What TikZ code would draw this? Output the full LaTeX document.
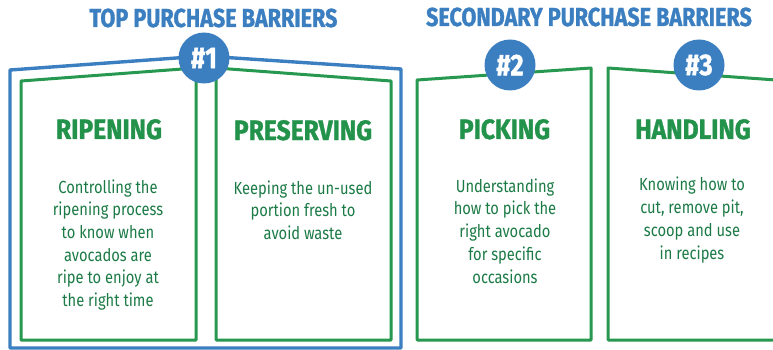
\documentclass[tikz,border=0pt]{standalone}
\usepackage{fontspec}
\setmainfont{Fira Sans}
\newfontfamily\condfont[FakeStretch=0.84]{Fira Sans}
\newfontfamily\headfont[FakeStretch=0.88, FakeBold=1.2]{Fira Sans Bold}
\newfontfamily\titlefont[FakeStretch=0.83, FakeBold=1.2]{Fira Sans Bold}
\newfontfamily\rankfont[FakeStretch=0.85, FakeBold=1.2]{Fira Sans Bold}
\definecolor{barblue}{HTML}{3B7FC1}
\definecolor{framegreen}{HTML}{27984F}
\definecolor{headgreen}{HTML}{23924B}
\definecolor{bodygreen}{HTML}{1B7A45}
\tikzset{
  frame/.style={draw=framegreen, line width=3pt, line join=round},
  outer/.style={draw=barblue, line width=3.4pt, line join=round},
  rank/.style={circle, fill=barblue, minimum size=51pt, inner sep=0pt,
               text=white, font=\rankfont\fontsize{30}{30}\selectfont},
  title/.style={anchor=base, text=barblue, inner sep=0pt,
                font=\titlefont\fontsize{26}{26}\selectfont},
  heading/.style={anchor=base, text=headgreen, inner sep=0pt,
                  font=\headfont\fontsize{28}{28}\selectfont},
  % multi-line text: the base anchor sits on the last line
  body/.style={anchor=base, text=bodygreen, inner sep=0pt, align=center,
               font=\condfont\fontsize{17.5}{22.7}\selectfont},
}
\begin{document}
\begin{tikzpicture}[x=1pt, y=-1pt]
\useasboundingbox (0,0) rectangle (773,350);
\begin{scope}
\clip (0,0) rectangle (773,350);

% blue frame around the two top barriers
\draw[outer] (10,70) -- (204,56) -- (401,69) -- (401,348) -- (10,348) -- cycle;

% the four barrier panels
\draw[frame] (21,81) -- (196,68) -- (196,340) -- (21,340) -- cycle;
\draw[frame] (216,68) -- (391,81) -- (391,340) -- (216,340) -- cycle;
\draw[frame] (417,80) -- (591,68) -- (591,340) -- (417,340) -- cycle;
\draw[frame] (608,68) -- (790,81) -- (790,340) -- (608,340) -- cycle;
\end{scope}

% rank badges
\node[rank] (r1) at (204,58) {\#1};
\node[rank] (r2) at (510,65) {\#2};
\node[rank] (r3) at (699,65) {\#3};

% group titles
\node[title] (t1) at (213.5,27) {TOP PURCHASE BARRIERS};
\node[title] (t2) at (589,26) {SECONDARY PURCHASE BARRIERS};

% panel headings
\node[heading] (h1) at (109,139) {RIPENING};
\node[heading] (h2) at (303,140) {PRESERVING};
\node[heading] (h3) at (504.5,139) {PICKING};
\node[heading] (h4) at (693,139) {HANDLING};

% panel descriptions
\node[body] (b1) at (108,306.5) {Controlling the\\ripening process\\to know when\\avocados are\\ripe to enjoy at\\the right time};
\node[body] (b2) at (303,239.5) {Keeping the un-used\\portion fresh to\\avoid waste};
\node[body] (b3) at (505,283) {Understanding\\how to pick the\\right avocado\\for specific\\occasions};
\node[body] (b4) at (692,259) {Knowing how to\\cut, remove pit,\\scoop and use\\in recipes};
\end{tikzpicture}
\end{document}
